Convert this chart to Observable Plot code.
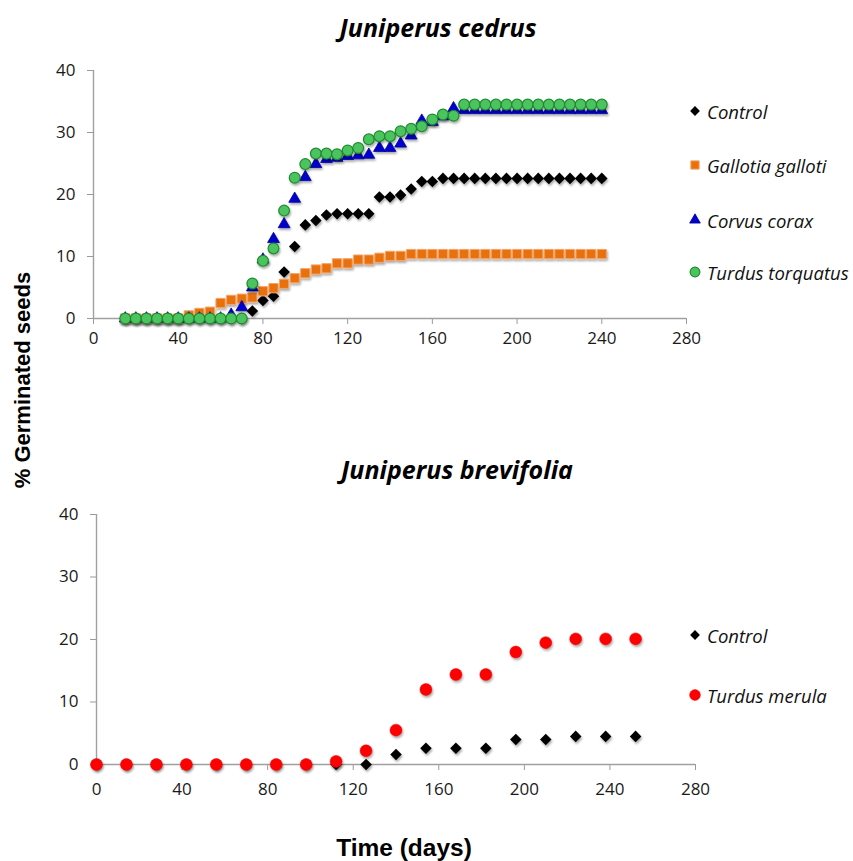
<!DOCTYPE html>
<html><head><meta charset="utf-8">
<script src="https://cdn.jsdelivr.net/npm/d3@7"></script>
<script src="https://cdn.jsdelivr.net/npm/@observablehq/plot@0.6"></script>
<style>
body{margin:0;background:#fff;}
#wrap{position:relative;width:853px;height:861px;background:#fff;overflow:hidden;font-family:"Open Sans",sans-serif;}
.abs{position:absolute;}
.title{font-family:"Open Sans",sans-serif;font-weight:700;font-style:italic;font-size:25px;white-space:nowrap;transform:translate(-50%,-50%);color:#000;line-height:1;}
.axlab{font-family:"Liberation Sans",Arial,sans-serif;font-weight:700;white-space:nowrap;color:#000;line-height:1;}
.leg{display:flex;align-items:center;height:24px;font-style:italic;font-size:18.5px;color:#111;white-space:nowrap;}
.leg svg{margin-right:4px;overflow:visible}
</style></head>
<body><div id="wrap"></div>
<script>
// ---------- Juniperus cedrus ----------
const cedrusDays = [15,20,25,30,35,40,45,50,55,60,65,70,75,80,85,90,95,100,105,110,115,120,125,130,135,140,145,150,155,160,165,170,175,180,185,190,195,200,205,210,215,220,225,230,235,240];
const cedrusControl = [0,0,0,0,0,0,0,0,0,0,0,0,1.2,2.9,3.6,7.5,11.6,15.1,15.8,16.7,16.9,16.9,16.9,16.9,19.6,19.6,19.9,20.9,22.1,22.1,22.6,22.6,22.6,22.6,22.6,22.6,22.6,22.6,22.6,22.6,22.6,22.6,22.6,22.6,22.6,22.6];
const cedrusGallotia = [0,0,0,0,0,0,0.5,0.9,1.1,2.5,3.0,3.2,3.4,4.4,4.9,5.6,6.5,7.3,7.9,8.1,8.9,8.9,9.5,9.5,9.8,10.1,10.1,10.4,10.4,10.4,10.4,10.4,10.4,10.4,10.4,10.4,10.4,10.4,10.4,10.4,10.4,10.4,10.4,10.4,10.4,10.4];
const cedrusCorvus = [0,0,0,0,0,0,0,0,0,0,0.6,1.8,5.0,9.5,12.8,15.2,19.3,22.8,24.9,25.7,25.9,26.2,26.3,26.4,27.5,27.5,28.2,29.5,31.9,31.7,32.6,33.9,33.6,33.6,33.6,33.6,33.6,33.6,33.6,33.6,33.6,33.6,33.6,33.6,33.6,33.6];
const cedrusTurdus = [0,0,0,0,0,0,0,0,0,0,0,0,5.65,9.3,11.3,17.4,22.7,24.9,26.6,26.6,26.5,27.1,27.5,28.9,29.4,29.4,30.2,30.6,31.0,32.1,32.9,32.7,34.5,34.5,34.5,34.5,34.5,34.5,34.5,34.5,34.5,34.5,34.5,34.5,34.5,34.5];

// ---------- Juniperus brevifolia ----------
const brevDays = [0,14,28,42,56,70,84,98,112,126,140,154,168,182,196,210,224,238,252];
const brevControl = [0,0,0,0,0,0,0,0,0,0,1.6,2.6,2.6,2.6,4.0,4.0,4.5,4.5,4.5];
const brevMerula = [0,0,0,0,0,0,0,0,0.5,2.2,5.5,12.0,14.4,14.4,18.0,19.5,20.1,20.1,20.1];

const xTicks = [0,40,80,120,160,200,240,280];
const yTicks = [0,10,20,30,40];

const topLegend = ["Control","Gallotia galloti","Corvus corax","Turdus torquatus"];
const bottomLegend = ["Control","Turdus merula"];

const rows = (days, vals) => days.map((d,i)=>({day:d, v:vals[i]}));

const styles = {
  control:{symbol:"diamond2", r:5.2, fill:"#000", stroke:"none"},
  gallotia:{symbol:"square", r:5.2, fill:"#e8710e", stroke:"#f6a466", strokeWidth:1},
  corvus:{symbol:"triangle", r:4.4, fill:"#0000cc", stroke:"#00009a", strokeWidth:0.8},
  torquatus:{symbol:"circle", r:5.4, fill:"#4cc45e", stroke:"#1e8a2e", strokeWidth:1.2},
  merula:{symbol:"circle", r:6, fill:"#ff0000", stroke:"#e80000", strokeWidth:0.5}
};

const wrap = document.getElementById("wrap");

function finish(svg){
  const ns = "http://www.w3.org/2000/svg";
  const defs = document.createElementNS(ns,"defs");
  defs.innerHTML = '<filter id="sh" x="-60%" y="-60%" width="220%" height="220%"><feDropShadow dx="1" dy="2" stdDeviation="1.2" flood-color="#000" flood-opacity="0.33"/></filter>';
  svg.insertBefore(defs, svg.firstChild);
  svg.querySelectorAll('g[aria-label="dot"]').forEach(g=>g.setAttribute("filter","url(#sh)"));
  svg.querySelectorAll('g[aria-label$="tick"]').forEach(g=>g.setAttribute("stroke","#9a9a9a"));
  svg.querySelectorAll('g[aria-label$="tick label"]').forEach(g=>g.setAttribute("fill","#1a1a1a"));
  return svg;
}

function panel(opts, marks){
  return finish(Plot.plot({
    width:853, height:330,
    marginLeft:opts.ml, marginRight:opts.mr, marginTop:opts.mt, marginBottom:opts.mb,
    style:{fontFamily:"'Open Sans', sans-serif", fontSize:"17px", background:"transparent", overflow:"visible", color:"#1a1a1a"},
    x:{domain:[0,280], ticks:xTicks, tickSize:6, tickPadding:opts.xpad, label:null},
    y:{domain:[0,40], ticks:yTicks, tickSize:6, tickPadding:12, label:null},
    marks:[
      Plot.ruleY([0], {stroke:"#a0a0a0", strokeWidth:1.4}),
      Plot.ruleX([0], {stroke:"#a0a0a0", strokeWidth:1.4}),
      ...marks
    ]
  }));
}

const p1 = panel({ml:93, mr:167, mt:30, mb:52, xpad:7}, [
  Plot.dot(rows(cedrusDays, cedrusControl), {x:"day", y:"v", ...styles.control}),
  Plot.dot(rows(cedrusDays, cedrusGallotia), {x:"day", y:"v", ...styles.gallotia}),
  Plot.dot(rows(cedrusDays, cedrusCorvus), {x:"day", y:"v", ...styles.corvus}),
  Plot.dot(rows(cedrusDays, cedrusTurdus), {x:"day", y:"v", ...styles.torquatus})
]);
p1.style.position="absolute"; p1.style.left="0px"; p1.style.top="40px";
wrap.appendChild(p1);

const p2 = panel({ml:96, mr:158, mt:24, mb:56, xpad:12}, [
  Plot.dot(rows(brevDays, brevControl), {x:"day", y:"v", ...styles.control}),
  Plot.dot(rows(brevDays, brevMerula), {x:"day", y:"v", ...styles.merula})
]);
p2.style.position="absolute"; p2.style.left="0px"; p2.style.top="490px";
wrap.appendChild(p2);

function addDiv(cls, html, css){
  const d = document.createElement("div");
  d.className = "abs " + cls;
  d.innerHTML = html;
  Object.assign(d.style, css);
  wrap.appendChild(d);
  return d;
}

addDiv("title","Juniperus cedrus",{left:"438px", top:"27px"});
addDiv("title","Juniperus brevifolia",{left:"457px", top:"469px"});
addDiv("axlab","% Germinated seeds",{left:"23px", top:"380px", fontSize:"22px", transform:"translate(-50%,-50%) rotate(-90deg)"});
addDiv("axlab","Time (days)",{left:"404px", top:"848px", fontSize:"24.5px", transform:"translate(-50%,-50%)"});

function legendRow(label, st, cy, scale){
  const path = d3.symbol(d3["symbol" + {diamond2:"Diamond2",square:"Square",triangle:"Triangle",circle:"Circle"}[st.symbol]], Math.PI*(st.r*scale)**2)();
  const svg = `<svg width="16" height="16" viewBox="-8 -8 16 16"><path d="${path}" fill="${st.fill}" stroke="${st.stroke}" stroke-width="${st.strokeWidth||0}"/></svg>`;
  addDiv("leg", svg + `<span>${label}</span>`, {left:"687px", top:(cy-12)+"px"});
}
legendRow(topLegend[0], styles.control, 111, 0.85);
legendRow(topLegend[1], styles.gallotia, 165, 0.9);
legendRow(topLegend[2], styles.corvus, 220, 0.9);
legendRow(topLegend[3], styles.torquatus, 272, 0.9);
legendRow(bottomLegend[0], styles.control, 635, 0.85);
legendRow(bottomLegend[1], styles.merula, 695, 0.9);
</script>
</body></html>
